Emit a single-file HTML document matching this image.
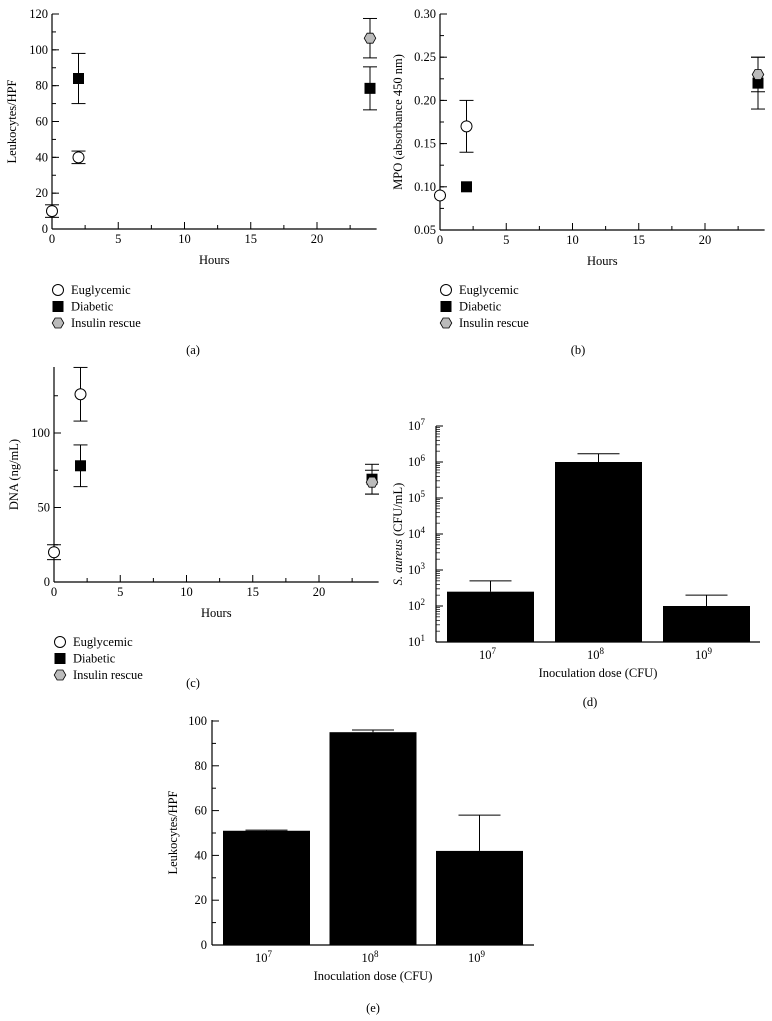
<!DOCTYPE html>
<html><head><meta charset="utf-8"><style>
body{margin:0;background:#fff}
svg{display:block;font-family:"Liberation Serif",serif;font-size:12.5px}
</style></head><body>
<svg id="s" width="772" height="1021" viewBox="0 0 772 1021"></svg>
<script>
// ---- data ----
const hoursA=[0,2,2,24,24];
const seriesA=['eug','eug','dia','dia','ins'];
const valuesA=[10,40,84,78.5,106.5];
const errA=[3.5,3.5,14,12,11];
const ticksA=[0,20,40,60,80,100,120];

const hoursB=[0,2,2,24,24];
const seriesB=['eug','eug','dia','dia','ins'];
const valuesB=[0.09,0.17,0.10,0.22,0.23];
const errB=[0,0.03,0,0.03,0.02];
const ticksB=['0.05','0.10','0.15','0.20','0.25','0.30'];

const hoursC=[0,2,2,24,24];
const seriesC=['eug','eug','dia','dia','ins'];
const valuesC=[20,126,78,69,67];
const errC=[5,18,14,10,8];
const ticksC=[0,50,100];

const doseD=['7','8','9'];
const valuesD=[250,1000000,100];
const errD=[250,700000,100];
const ticksD=[1,2,3,4,5,6,7];

const doseE=['7','8','9'];
const valuesE=[51,95,42];
const errE=[0.3,1,16];
const ticksE=[0,20,40,60,80,100];
const xTicksHours=[0,5,10,15,20];

const S=document.getElementById('s');
const NS='http://www.w3.org/2000/svg';
function el(t,a,txt,p){const e=document.createElementNS(NS,t);for(const k in a)e.setAttribute(k,a[k]);if(txt!==undefined)e.textContent=txt;(p||S).appendChild(e);return e;}

function scatter(cfg){
  const g=el('g',{});
  
  
  const X=h=>cfg.x0+h*13.25;
  const Y=v=>cfg.yb-(v-cfg.ymin)/(cfg.ymax-cfg.ymin)*(cfg.yb-cfg.yt);
  const axE=X(24.5);
  const yax=el('line',{x1:cfg.x0,y1:cfg.ytop,x2:cfg.x0,y2:cfg.yb,stroke:'#000','stroke-width':1.2},undefined,g);
  
  const xax=el('line',{x1:cfg.x0,y1:cfg.yb,x2:axE,y2:cfg.yb,stroke:'#000','stroke-width':1.2},undefined,g);
  
  for(let v=cfg.ymin;v<=cfg.ymaxT+1e-9;v+=cfg.minor){el('line',{x1:cfg.x0,y1:Y(v),x2:cfg.x0+4,y2:Y(v),stroke:'#000'},undefined,g);}
  cfg.ticks.forEach(t=>{const v=+t;el('line',{x1:cfg.x0,y1:Y(v),x2:cfg.x0+7,y2:Y(v),stroke:'#000'},undefined,g);
    const tl=el('text',{x:cfg.x0-4,y:Y(v)+4,'text-anchor':'end'},String(t),g);
    });
  for(let h=0;h<=22.5;h+=2.5){const maj=h%5===0;el('line',{x1:X(h),y1:cfg.yb,x2:X(h),y2:cfg.yb-(maj?7:4),stroke:'#000'},undefined,g);}
  xTicksHours.forEach(h=>{const tl=el('text',{x:X(h),y:cfg.yb+14,'text-anchor':'middle'},String(h),g);
    });
  const xt=el('text',{x:(cfg.x0+axE)/2+0,y:cfg.yb+35,'text-anchor':'middle'},'Hours',g);
  
  const cy=(cfg.ytop+cfg.yb)/2;
  const yt=el('text',{x:cfg.ylx,y:cy,'text-anchor':'middle',transform:`rotate(-90 ${cfg.ylx} ${cy})`},cfg.ylabel,g);
  
  cfg.h.forEach((h,i)=>{const e=cfg.e[i];if(!e)return;const x=X(h),v=cfg.v[i];
    el('line',{x1:x,y1:Y(v-e),x2:x,y2:Y(v+e),stroke:'#000'},undefined,g);
    el('line',{x1:x-7,y1:Y(v-e),x2:x+7,y2:Y(v-e),stroke:'#000'},undefined,g);
    el('line',{x1:x-7,y1:Y(v+e),x2:x+7,y2:Y(v+e),stroke:'#000'},undefined,g);});
  cfg.h.forEach((h,i)=>{const m=marker(cfg.s[i],X(h),Y(cfg.v[i]),g);
    });
  const labels={eug:'Euglycemic',dia:'Diabetic',ins:'Insulin rescue'};
  ['eug','dia','ins'].forEach((s,i)=>{const y=cfg.ly+i*16.5;const lg=el('g',{},undefined,g);
    
    marker(s,cfg.x0+6,y,lg);el('text',{x:cfg.x0+19,y:y+4},labels[s],lg);});
  const pl=el('text',{x:cfg.px,y:cfg.py,'text-anchor':'middle'},cfg.plabel,g);
  
}
function marker(s,x,y,p){
  if(s==='eug')return el('circle',{cx:x,cy:y,r:5.5,fill:'#fff',stroke:'#000','stroke-width':1},undefined,p);
  if(s==='dia')return el('rect',{x:x-5.5,y:y-5.5,width:11,height:11,fill:'#000'},undefined,p);
  const r=5.8;let pts=[];for(let k=0;k<6;k++){const a=k*Math.PI/3;pts.push((x+r*Math.cos(a)).toFixed(1)+','+(y+r*Math.sin(a)).toFixed(1));}
  return el('polygon',{points:pts.join(' '),fill:'#bbb',stroke:'#000','stroke-width':0.8},undefined,p);
}
scatter({name:'chart-a-leukocytes',x0:52,ytop:14,yt:14,yb:229,ymin:0,ymax:120,ymaxT:120,minor:10,ticks:ticksA,h:hoursA,s:seriesA,v:valuesA,e:errA,ylx:16,ylabel:'Leukocytes/HPF',ly:290,px:193,py:354,plabel:'(a)'});
scatter({name:'chart-b-mpo',x0:440,ytop:14,yt:14,yb:230,ymin:0.05,ymax:0.30,ymaxT:0.30,minor:0.025,ticks:ticksB,h:hoursB,s:seriesB,v:valuesB,e:errB,ylx:402,ylabel:'MPO (absorbance 450 nm)',ly:290,px:578,py:354,plabel:'(b)'});
scatter({name:'chart-c-dna',x0:54,ytop:367,yt:433,yb:582,ymin:0,ymax:100,ymaxT:140,minor:25,ticks:ticksC,h:hoursC,s:seriesC,v:valuesC,e:errC,ylx:18,ylabel:'DNA (ng/mL)',ly:642,px:193,py:687,plabel:'(c)'});

function bars(cfg){
  const g=el('g',{});
  
  
  const Y=cfg.Y;
  const ya=el('line',{x1:cfg.x0,y1:cfg.yt,x2:cfg.x0,y2:cfg.yb,stroke:'#000','stroke-width':1.2},undefined,g);
  
  const xa=el('line',{x1:cfg.x0,y1:cfg.yb,x2:cfg.xe,y2:cfg.yb,stroke:'#000','stroke-width':1.2},undefined,g);
  
  cfg.tickFn(g);
  const bw=87;
  cfg.cats.forEach((c,i)=>{const x=cfg.x0+11+i*cfg.step;const v=cfg.v[i],e=cfg.e[i];
    const b=el('rect',{x:x,y:Y(v),width:bw,height:cfg.yb-Y(v),fill:'#000'},undefined,g);
    
    const cx=x+bw/2;el('line',{x1:cx,y1:Y(v),x2:cx,y2:Y(v+e),stroke:'#000'},undefined,g);
    el('line',{x1:cx-21,y1:Y(v+e),x2:cx+21,y2:Y(v+e),stroke:'#000'},undefined,g);
    const t=el('text',{x:cx-3,y:cfg.yb+17,'text-anchor':'middle'},'10',g);
    el('tspan',{dy:-5,'font-size':'9px'},c,t);
    });
  const xt=el('text',{x:(cfg.x0+cfg.xe)/2,y:cfg.yb+35,'text-anchor':'middle'},'Inoculation dose (CFU)',g);
  
  const cy=(cfg.yt+cfg.yb)/2;
  const yt=el('text',{x:cfg.ylx,y:cy,'text-anchor':'middle',transform:`rotate(-90 ${cfg.ylx} ${cy})`},undefined,g);
  if(cfg.italic){el('tspan',{'font-style':'italic'},'S. aureus',yt);el('tspan',{},' (CFU/mL)',yt);}else yt.textContent=cfg.ylabel;
  
  const pl=el('text',{x:cfg.px,y:cfg.py,'text-anchor':'middle'},cfg.plabel,g);
  
}
const YD=v=>642-(Math.log10(v)-1)*36;
bars({name:'chart-d-saureus',x0:436,xe:760,yt:426,yb:642,Y:YD,step:108,cats:doseD,v:valuesD,e:errD,ylx:402,italic:true,px:590,py:706,plabel:'(d)',
  tickFn:g=>{ticksD.forEach(d=>{const y=YD(Math.pow(10,d));el('line',{x1:436,y1:y,x2:443,y2:y,stroke:'#000'},undefined,g);
    if(d<7)for(let m=2;m<10;m++){const yy=YD(m*Math.pow(10,d));el('line',{x1:436,y1:yy,x2:440,y2:yy,stroke:'#000','stroke-width':0.7},undefined,g);}
    const t=el('text',{x:425,y:y+4,'text-anchor':'end'},'10',g);el('tspan',{dy:-5,'font-size':'9px'},String(d),t);
    });}});
const YE=v=>945-v*2.24;
bars({name:'chart-e-leukocytes',x0:212,xe:534,yt:720,yb:945,Y:YE,step:106.5,cats:doseE,v:valuesE,e:errE,ylx:177,ylabel:'Leukocytes/HPF',px:373,py:1012,plabel:'(e)',
  tickFn:g=>{for(let v=0;v<=100;v+=10){el('line',{x1:212,y1:YE(v),x2:v%20?216:219,y2:YE(v),stroke:'#000'},undefined,g);}
    ticksE.forEach(v=>{const t=el('text',{x:207,y:YE(v)+4,'text-anchor':'end'},String(v),g);
    });}});
</script>
</body></html>
